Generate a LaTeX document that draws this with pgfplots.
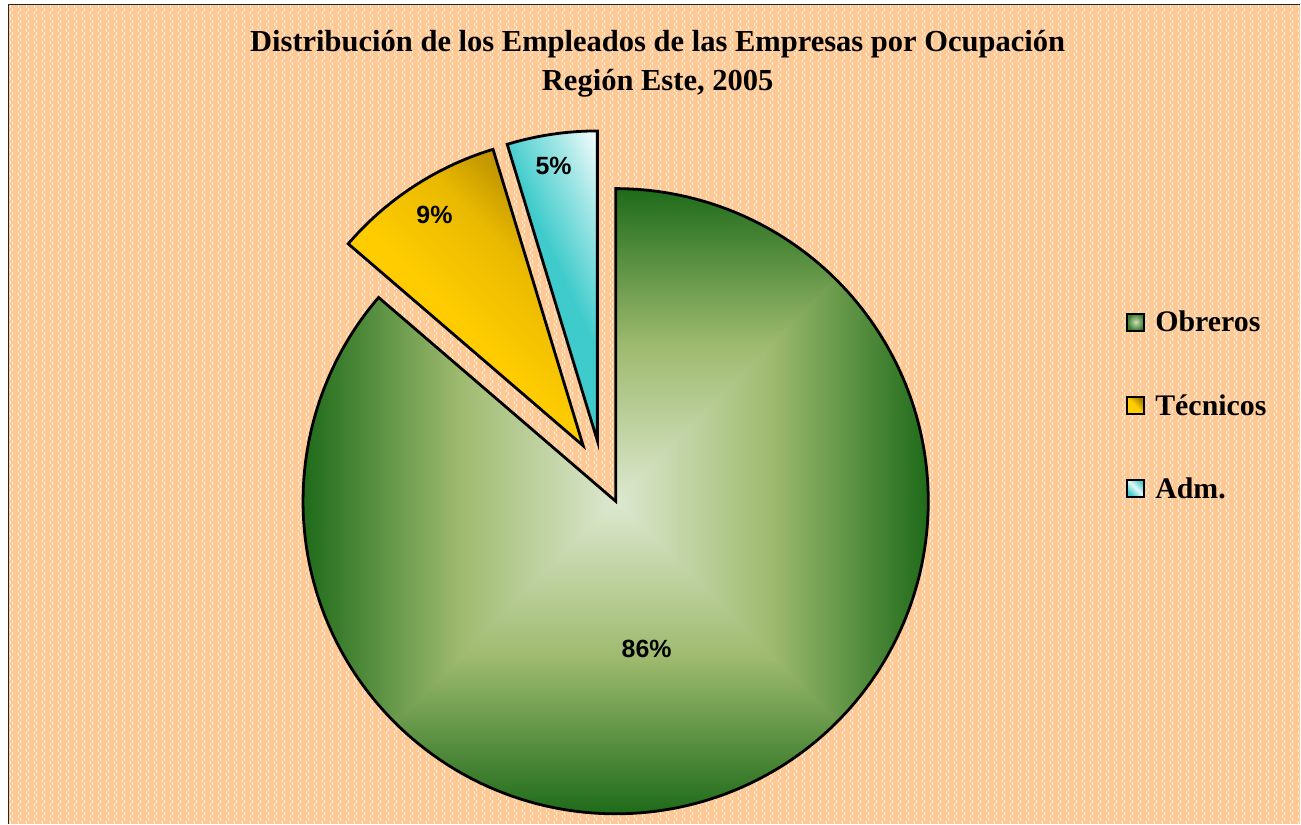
\documentclass[border=0pt]{standalone}
\usepackage{pgfplots}
\pgfplotsset{compat=1.18}
\usepackage{pgfplotstable}
\usepackage{fontspec}
\setmainfont{Liberation Serif}
\newfontfamily\arialfont{Liberation Sans}
\definecolor{peach}{HTML}{FFC995}
\definecolor{gdark}{HTML}{1E6B1A}
\definecolor{gmid}{HTML}{9EBA6E}
\definecolor{glight}{HTML}{DDE8D0}
\definecolor{ydark}{HTML}{A88000}
\definecolor{yell}{HTML}{FFCC00}
\definecolor{cyanA}{HTML}{3FCBCB}
\pgfdeclareverticalshading{yshade}{100bp}{color(0bp)=(yell); color(46bp)=(yell); color(62bp)=(yell!75!ydark); color(78bp)=(ydark); color(100bp)=(ydark)}
\pgfdeclareverticalshading{cshade}{100bp}{color(0bp)=(cyanA); color(54bp)=(cyanA); color(70bp)=(cyanA!50!white); color(84bp)=(white); color(100bp)=(white)}

% shares of employees by occupation (percent)
\pgfplotstableread{
cat value
Obreros 86.3
Tecnicos 9.0
Adm 4.7
}\piedata
\pgfplotstablegetelem{0}{value}\of\piedata \let\vObr\pgfplotsretval
\pgfplotstablegetelem{1}{value}\of\piedata \let\vTec\pgfplotsretval
\pgfplotstablegetelem{2}{value}\of\piedata \let\vAdm\pgfplotsretval
% angles (degrees), slices run clockwise from 12 o'clock
\pgfmathsetmacro{\gEnd}{90-3.6*\vObr}          % end of Obreros
\pgfmathsetmacro{\yStart}{\gEnd+360}           % Tecnicos upper angle
\pgfmathsetmacro{\yEnd}{\yStart-3.6*\vTec}     % Tecnicos lower angle
\pgfmathsetmacro{\cEnd}{\yEnd-3.6*\vAdm}       % Adm lower angle (=90)
% geometry (pixel units)
\def\gx{616}\def\gy{322.5}\def\gr{312.8}
\def\yx{583.5}\def\yy{378}\def\yr{310}
\def\cx{597.7}\def\cy{383}\def\cr{310}

\begin{document}
\begin{tikzpicture}
\begin{scope}[x=0.75pt,y=0.75pt]
\fill[white] (0,0) rectangle (1301,824);
\fill[peach] (8.7,0) rectangle (1301,819.3);
\begin{scope}
\clip (9.5,0) rectangle (1301,818.5);
\foreach \x in {11,19,...,1301} {
  \draw[white, opacity=0.75, line width=0.75pt, dash pattern=on 2.25pt off 2.25pt] (\x,0) -- (\x,820);
  \draw[white, opacity=0.75, line width=0.75pt, dash pattern=on 2.25pt off 2.25pt, dash phase=2.25pt] (\x+2,0) -- (\x+2,820);
}
\end{scope}
\draw[line width=1.1pt, black!85] (8.7,0) -- (8.7,819.3) -- (1301,819.3);
\end{scope}

\begin{axis}[at={(0,0)}, anchor=south west, scale only axis,
  width=975.75pt, height=618pt, xmin=0, xmax=1301, ymin=0, ymax=824,
  hide axis, clip=false, no markers]

% --- Obreros: square ("from centre") gradient made of four sectors
\addplot[draw=none, bottom color=glight, top color=gdark, middle color=gmid, shading angle=0,
  domain=44.5:90, samples=40] ({\gx+\gr*cos(x)},{\gy+\gr*sin(x)}) -- (\gx,\gy) -- cycle;
\addplot[draw=none, bottom color=glight, top color=gdark, middle color=gmid, shading angle=-90,
  domain=-45.5:45.5, samples=60] ({\gx+\gr*cos(x)},{\gy+\gr*sin(x)}) -- (\gx,\gy) -- cycle;
\addplot[draw=none, bottom color=glight, top color=gdark, middle color=gmid, shading angle=180,
  domain=-135.5:-44.5, samples=60] ({\gx+\gr*cos(x)},{\gy+\gr*sin(x)}) -- (\gx,\gy) -- cycle;
\addplot[draw=none, bottom color=glight, top color=gdark, middle color=gmid, shading angle=90,
  domain=\gEnd:-134.5, samples=60] ({\gx+\gr*cos(x)},{\gy+\gr*sin(x)}) -- (\gx,\gy) -- cycle;
\addplot[draw=black, line width=2.1pt, fill=none,
  domain=\gEnd:90, samples=240] ({\gx+\gr*cos(x)},{\gy+\gr*sin(x)}) -- (\gx,\gy) -- cycle;

% --- Tecnicos (exploded)
\addplot[draw=black, line width=2.1pt, shade, shading=yshade, shading angle=-45,
  domain=\yEnd:\yStart, samples=60] ({\yx+\yr*cos(x)},{\yy+\yr*sin(x)}) -- (\yx,\yy) -- cycle;

% --- Adm. (exploded)
\addplot[draw=black, line width=2.1pt, shade, shading=cshade, shading angle=-65,
  domain=\cEnd:\yEnd, samples=40] ({\cx+\cr*cos(x)},{\cy+\cr*sin(x)}) -- (\cx,\cy) -- cycle;

% --- data labels
\node[font=\arialfont\bfseries\fontsize{18.7pt}{20pt}\selectfont] at (axis cs:647,175) {86\%};
\node[font=\arialfont\bfseries\fontsize{18.7pt}{20pt}\selectfont] at (axis cs:434.7,608.5) {9\%};
\node[font=\arialfont\bfseries\fontsize{18.7pt}{20pt}\selectfont] at (axis cs:553.9,658) {5\%};

% --- title
\node[anchor=base, font=\bfseries\fontsize{22.9pt}{27pt}\selectfont] at (axis cs:658,772.3)
  {Distribución de los Empleados de las Empresas por Ocupación};
\node[anchor=base, font=\bfseries\fontsize{22.9pt}{27pt}\selectfont] at (axis cs:658,733.3)
  {Región Este, 2005};

% --- legend
\shadedraw[line width=1.5pt, draw=black, inner color=glight!80!gmid, outer color=gdark!80!gmid]
  (axis cs:1127.8,493.3) rectangle (axis cs:1144.8,510.3);
\shadedraw[line width=1.5pt, draw=black, bottom color=yell, top color=ydark, middle color=yell, shading angle=-45]
  (axis cs:1127.8,409.3) rectangle (axis cs:1144.8,426.3);
\shadedraw[line width=1.5pt, draw=black, bottom color=cyanA, top color=cyanA, middle color=white!85!cyanA, shading angle=-45]
  (axis cs:1127.8,327.2) rectangle (axis cs:1144.8,344.2);
\node[anchor=base west, inner sep=0pt, font=\bfseries\fontsize{22.4pt}{26pt}\selectfont] at (axis cs:1155.7,492.3) {Obreros};
\node[anchor=base west, inner sep=0pt, font=\bfseries\fontsize{22.4pt}{26pt}\selectfont] at (axis cs:1155.7,408.2) {Técnicos};
\node[anchor=base west, inner sep=0pt, font=\bfseries\fontsize{22.4pt}{26pt}\selectfont] at (axis cs:1155.7,325.7) {Adm.};
\end{axis}
\end{tikzpicture}
\end{document}
